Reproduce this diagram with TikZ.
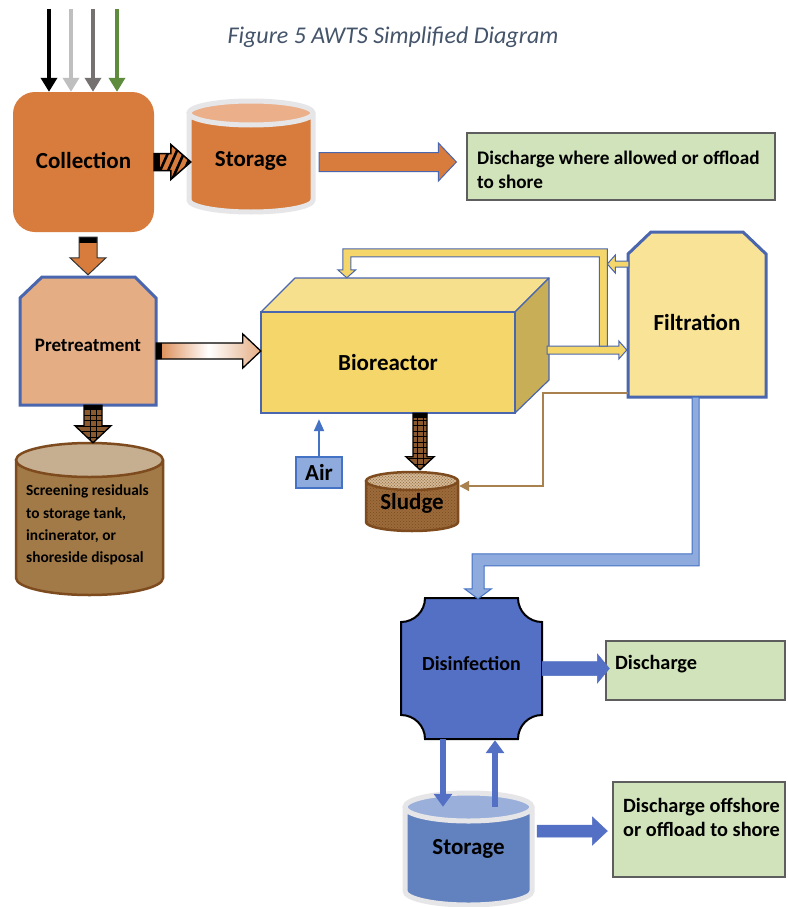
\documentclass[tikz,border=0pt]{standalone}
\usepackage{fontspec}
\setmainfont{Carlito}
\usetikzlibrary{calc,patterns,arrows.meta}
\definecolor{corange}{HTML}{D77C3C}
\definecolor{clorange}{HTML}{EBB08A}
\definecolor{cpre}{HTML}{E4AD84}
\definecolor{cblue}{HTML}{4A66AE}
\definecolor{cblueline}{HTML}{4472C4}
\definecolor{cyfront}{HTML}{F4D66B}
\definecolor{cytop}{HTML}{F6E08E}
\definecolor{cyright}{HTML}{C8AE57}
\definecolor{cfilt}{HTML}{F8E397}
\definecolor{cgreen}{HTML}{D1E3BA}
\definecolor{cgreenedge}{HTML}{5E5E5E}
\definecolor{cbrown}{HTML}{A27A47}
\definecolor{cbrowntop}{HTML}{C6AF90}
\definecolor{cbrownedge}{HTML}{7E4B1F}
\definecolor{cbrownarrow}{HTML}{8A5A2E}
\definecolor{csludge}{HTML}{9C6B3C}
\definecolor{csludgetop}{HTML}{D5BB9A}
\definecolor{cdis}{HTML}{5470C5}
\definecolor{cstb}{HTML}{6281BF}
\definecolor{csttop}{HTML}{9AB0DB}
\definecolor{cair}{HTML}{8FAADC}
\definecolor{cline}{HTML}{A8814F}
\definecolor{ctitle}{HTML}{44546A}
\definecolor{cinlight}{HTML}{BFBFBF}
\definecolor{cindark}{HTML}{767171}
\definecolor{cingreen}{HTML}{5E8B3C}
\definecolor{crim}{HTML}{E6E6E8}

% shift text inside a node without changing its box
\newcommand\vshift[2]{\raisebox{#1}[\height][\depth]{#2}}
% block arrows: from, to, shaft half, head half, head length, style
\newcommand\blkR[6]{\path[#6] let \p1=(#1), \p2=(#2) in (\x1,\y1+#3) -- (\x2-#5,\y1+#3) -- (\x2-#5,\y1+#4) -- (\x2,\y1) -- (\x2-#5,\y1-#4) -- (\x2-#5,\y1-#3) -- (\x1,\y1-#3) -- cycle;}
\newcommand\blkL[6]{\path[#6] let \p1=(#1), \p2=(#2) in (\x1,\y1+#3) -- (\x2+#5,\y1+#3) -- (\x2+#5,\y1+#4) -- (\x2,\y1) -- (\x2+#5,\y1-#4) -- (\x2+#5,\y1-#3) -- (\x1,\y1-#3) -- cycle;}
\newcommand\blkD[6]{\path[#6] let \p1=(#1), \p2=(#2) in (\x1-#3,\y1) -- (\x1-#3,\y2+#5) -- (\x1-#4,\y2+#5) -- (\x1,\y2) -- (\x1+#4,\y2+#5) -- (\x1+#3,\y2+#5) -- (\x1+#3,\y1) -- cycle;}
% cylinder: cx, ytop, ybot, rx, ry, body style, top style, outline style
\newcommand\cylshape[8]{%
 \path[#6] (#1-#4,#2+#5) -- (#1-#4,#3-#5) arc[start angle=180,end angle=360,x radius=#4pt,y radius=#5pt] -- (#1+#4,#2+#5) arc[start angle=0,end angle=180,x radius=#4pt,y radius=#5pt] -- cycle;
 \path[#7] (#1,#2+#5) ellipse[x radius=#4pt,y radius=#5pt];
 \path[#8] (#1-#4,#2+#5) -- (#1-#4,#3-#5) arc[start angle=180,end angle=360,x radius=#4pt,y radius=#5pt] -- (#1+#4,#2+#5) arc[start angle=0,end angle=180,x radius=#4pt,y radius=#5pt] -- cycle (#1,#2+#5) ellipse[x radius=#4pt,y radius=#5pt];
}

\tikzset{
 shapenode/.style={inner sep=0pt, minimum width=#1},
 lbl/.style={inner sep=0pt, font=\bfseries\fontsize{23}{27}\selectfont, text=black},
 inarrow/.style={line width=3.5pt, -{Triangle[width=16pt,length=14pt]}},
 greenbox/.style={fill=cgreen, draw=cgreenedge, line width=1.2pt, inner sep=0pt},
 stripearrow/.style={fill=corange, draw=black, line width=1.5pt,
   path picture={\fill[black] (path picture bounding box.south west) rectangle ++(6pt,40pt);
     \foreach \k in {0,...,6} \draw[black, line width=2.6pt] ([xshift=\k*8pt+2pt]path picture bounding box.south west) -- ++(16pt,36pt);}},
 orangearrow/.style={fill=corange, draw=cblue, line width=1pt},
 downorange/.style={fill=corange, draw=black!80, line width=1pt,
   path picture={\fill[black] (path picture bounding box.north west) rectangle ++(50pt,-6pt);}},
 gradarrow/.style={left color=corange!80!cpre, right color=cpre, middle color=white, draw=black, line width=1.3pt,
   path picture={\fill[black] (path picture bounding box.south west) rectangle ++(6pt,40pt);}},
 brownarrow/.style={fill=cbrownarrow, draw=black, line width=1.3pt,
   path picture={\fill[black] (path picture bounding box.north west) rectangle ++(50pt,-5pt);
     \foreach \k in {1,...,12} \draw[black, line width=0.7pt] ([yshift=\k*5.5pt]path picture bounding box.south west) -- ++(60pt,0pt);
     \draw[black, line width=0.7pt] ([xshift=-3pt]path picture bounding box.south) -- ([xshift=-3pt]path picture bounding box.north);
     \draw[black, line width=0.7pt] ([xshift=3pt]path picture bounding box.south) -- ([xshift=3pt]path picture bounding box.north);}},
 yarrow/.style={fill=cyfront, draw=cblue, line width=1pt},
 bluepipe/.style={fill=cair, draw=cblueline, line width=1pt},
 bluearrow/.style={fill=cdis, draw=cdis, line width=0.5pt},
 bluethick/.style={draw=cdis, line width=6pt, -{Triangle[width=18pt,length=13pt]}},
 brownline/.style={draw=cline, line width=2pt, -{Triangle[width=10pt,length=10pt]}},
 airarrow/.style={draw=cblueline, line width=2pt, -{Triangle[width=10pt,length=12pt]}},
}

\begin{document}
\begin{tikzpicture}[x=1pt,y=-1pt]
\useasboundingbox (0,0) rectangle (787,907);
\fill[white] (0,0) rectangle (787,907);

% title
\node[inner sep=0pt, font=\itshape\fontsize{24}{28}\selectfont, text=ctitle] (title) at (393,37) {Figure 5 AWTS Simplified Diagram};

% ---------- shapes ----------
% collection
\node[lbl, fill=corange, rounded corners=22pt, minimum width=141pt, minimum height=140pt] (coll) at (83.5,162) {\vshift{2pt}{Collection}};

% storage (top)
\cylshape{251}{101}{212}{62}{12}{fill=corange}{fill=clorange}{draw=crim, line width=5pt}
\node[lbl, minimum width=128pt, minimum height=111pt] (stor1) at (251,157) {\vshift{-4pt}{Storage}};

% discharge box top
\node[greenbox, minimum width=308pt, minimum height=67pt] (dis1) at (621,166.5) {};
\node[lbl, anchor=west, align=left, font=\bfseries\fontsize{19.2}{24}\selectfont] (t1) at (477,170) {Discharge where allowed or offload\\to shore};

% pretreatment
\path[fill=cpre, draw=cblue, line width=3pt, line join=miter] (20,298) -- (42,277) -- (135,277) -- (156,298) -- (156,405) -- (20,405) -- cycle;
\node[lbl, font=\bfseries\fontsize{19}{23}\selectfont, minimum width=136pt, minimum height=128pt] (pre) at (88,341) {\vshift{-4pt}{Pretreatment}};

% screening cylinder
\cylshape{89.5}{443}{595}{73.5}{17}{fill=cbrown}{fill=cbrowntop}{draw=cbrownedge, line width=2.5pt}
\node[shapenode=147pt, minimum height=152pt] (scr) at (89.5,519) {};
\node[lbl, anchor=west, align=left, font=\bfseries\fontsize{15.4}{22.3}\selectfont] (t2) at (26,525) {Screening residuals\\to storage tank,\\incinerator, or\\shoreside disposal};

% bioreactor
\path[fill=cytop, draw=cblue, line width=1.2pt, line join=round] (261,312) -- (295,278) -- (549,278) -- (515,312) -- cycle;
\path[fill=cyright, draw=cblue, line width=1.2pt, line join=round] (515,312) -- (549,278) -- (549,380) -- (515,413) -- cycle;
\path[fill=cyfront, draw=cblue, line width=1.2pt] (261,312) rectangle (515,413);
\node[lbl, minimum width=254pt, minimum height=101pt] (bio) at (388,362.5) {Bioreactor};

% filtration
\path[fill=cfilt, draw=cblue, line width=3pt, line join=miter] (628,254) -- (651,232) -- (743,232) -- (766,254) -- (766,397) -- (628,397) -- cycle;
\node[shapenode=138pt, minimum height=165pt] (filt) at (697,314.5) {};
\node[lbl] (t3) at (697,322) {Filtration};

% air
\node[lbl, fill=cair, draw=cblueline, line width=1.2pt, minimum width=46pt, minimum height=31pt] (air) at (319,472.5) {Air};

% sludge cylinder
\cylshape{412}{472}{531}{46}{9}{fill=csludge}{fill=csludgetop}{draw=none}
\cylshape{412}{472}{531}{46}{9}{pattern=crosshatch dots, pattern color=cbrownedge}{pattern=crosshatch dots, pattern color=cbrown}{draw=cbrownedge, line width=2.5pt}
\node[lbl, minimum width=92pt, minimum height=59pt] (slu) at (412,501.5) {\vshift{-2pt}{Sludge}};

% disinfection (plaque)
\path[fill=cdis, draw=black, line width=2pt] (425,598) -- (518,598) arc[start angle=180,end angle=270,radius=24pt] -- (542,715) arc[start angle=90,end angle=180,radius=24pt] -- (425,739) arc[start angle=0,end angle=90,radius=24pt] -- (401,622) arc[start angle=270,end angle=360,radius=24pt] -- cycle;
\node[lbl, font=\bfseries\fontsize{20}{24}\selectfont, minimum width=141pt, minimum height=141pt] (dis) at (471.5,668.5) {\vshift{5pt}{Disinfection}};

% discharge box
\node[greenbox, minimum width=179pt, minimum height=59pt] (dis2) at (695.5,670.5) {};
\node[lbl, anchor=west, font=\bfseries\fontsize{20.3}{24}\selectfont] (t4) at (615,664) {Discharge};

% storage (bottom)
\cylshape{468.5}{793}{905}{63.5}{14}{fill=cstb}{fill=csttop}{draw=crim, line width=5pt}
\node[lbl, minimum width=127pt, minimum height=112pt] (st2) at (468.5,849) {Storage};

% offshore box
\node[greenbox, minimum width=172pt, minimum height=95pt] (off) at (699,829.5) {};
\node[lbl, anchor=west, align=left, font=\bfseries\fontsize{20.3}{24}\selectfont] (t5) at (623,817) {Discharge offshore\\or offload to shore};

% ---------- connectors ----------
\coordinate (in1) at (49,9);
\coordinate (in2) at (71,9);
\coordinate (in3) at (93,9);
\coordinate (in4) at (117,9);
\draw[inarrow, black] (in1) -- (coll.north -| in1);
\draw[inarrow, cinlight] (in2) -- (coll.north -| in2);
\draw[inarrow, cindark] (in3) -- (coll.north -| in3);
\draw[inarrow, cingreen] (in4) -- (coll.north -| in4);

\blkR{coll.east}{$(stor1.west)+(4,0)$}{8.5pt}{17.5pt}{20pt}{stripearrow}
\blkR{$(coll.east -| stor1.east)+(4,0)$}{$(dis1.west)+(-10,0)$}{9.5pt}{19pt}{18pt}{orangearrow}
\blkD{$(pre.north |- coll.south)+(0,5)$}{$(pre.north)+(0,-2)$}{9pt}{18pt}{17pt}{downorange}
\blkR{$(pre.east)+(0,10)$}{bio.west}{8pt}{17pt}{18pt}{gradarrow}
\blkD{$(pre.south)+(5,0)$}{scr.north}{9pt}{18pt}{17pt}{brownarrow}
\blkD{$(bio.south -| slu.north)+(8,0)$}{$(slu.north)+(0,-2)$}{7pt}{14pt}{13pt}{brownarrow}

% bioreactor -> filtration
\coordinate (m1) at ($(bio.east)+(32,-12.5)$);
\blkR{m1}{$(filt.west)+(-1,0)$}{4pt}{9pt}{8pt}{yarrow}
% recycle loop to bioreactor top
\coordinate (rJ) at ($(filt.west)+(-24.5,31.5)$);
\coordinate (rT) at ($(bio.north west)+(86,-34)$);
\path[yarrow] let \p1=(rJ), \p2=(rT) in (\x1+4pt,\y1) -- (\x1+4pt,\y2+29pt) -- (\x2-4pt,\y2+29pt) -- (\x2-4pt,\y2+8pt) -- (\x2-9pt,\y2+8pt) -- (\x2,\y2) -- (\x2+9pt,\y2+8pt) -- (\x2+4pt,\y2+8pt) -- (\x2+4pt,\y2+21pt) -- (\x1-4pt,\y2+21pt) -- (\x1-4pt,\y1) -- cycle;
\blkL{$(filt.west)+(1,-50.5)$}{$(rJ)+(4,0)$}{3pt}{9pt}{8pt}{yarrow}

% filtration -> sludge
\draw[brownline] ($(filt.south west)+(0,-4)$) -- ++(-85,0) |- ($(slu.east)+(1,-15.5)$);
% air -> bioreactor
\draw[airarrow] (air.north) -- ($(bio.south -| air.north)+(0,6)$);

% filtration -> disinfection pipe
\path[bluepipe] let \p1=($(filt.south)+(-1.5,0)$), \p2=($(dis.north)+(6.5,1)$) in (\x1+3.5pt,\y1) -- (\x1+3.5pt,\y2+33pt) -- (\x2+6pt,\y2+33pt) -- (\x2+6pt,\y2+10pt) -- (\x2+13.5pt,\y2+10pt) -- (\x2,\y2) -- (\x2-13.5pt,\y2+10pt) -- (\x2-6pt,\y2+10pt) -- (\x2-6pt,\y2+45pt) -- (\x1-3.5pt,\y2+45pt) -- (\x1-3.5pt,\y1) -- cycle;

% disinfection -> discharge
\blkR{dis.east}{$(dis2.west)+(4,0)$}{7pt}{14.5pt}{12pt}{bluearrow}
% disinfection <-> storage
\draw[bluethick] ($(dis.south)+(-28.5,0)$) -- ($(dis.south |- st2.north)+(-28.5,14)$);
\draw[bluethick] ($(dis.south |- st2.north)+(23.5,14)$) -- ($(dis.south)+(23.5,1)$);
% storage -> offshore
\blkR{$(st2.east)+(5,-18)$}{$(off.west)+(-5,0)$}{6pt}{14pt}{15pt}{bluearrow}
\end{tikzpicture}
\end{document}
